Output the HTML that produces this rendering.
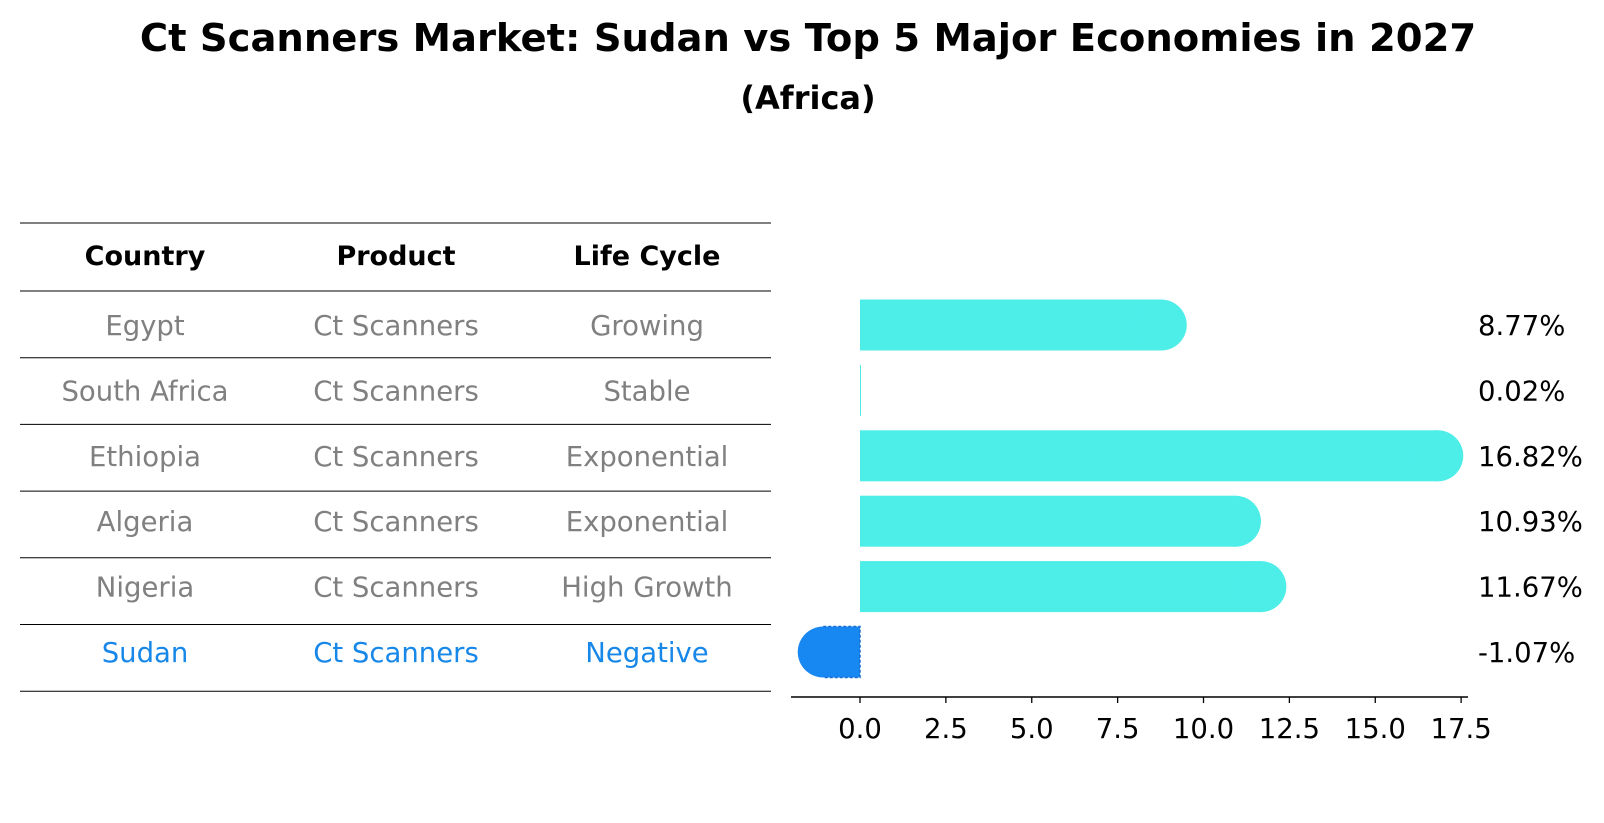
<!DOCTYPE html>
<html><head><meta charset="utf-8"><style>
body{margin:0;background:#fff;font-family:"Liberation Sans","DejaVu Sans",sans-serif;}
#wrap{position:relative;width:1604px;height:823px;overflow:hidden;}
.t{position:absolute;white-space:nowrap;line-height:1.15;}
</style></head><body>
<div id="wrap">
<div class="t" style="left:0;width:1616px;text-align:center;top:17px;font-size:38.5px;font-weight:bold;font-family:'DejaVu Sans',sans-serif;">Ct Scanners Market: Sudan vs Top 5 Major Economies in 2027</div>
<div class="t" style="left:0;width:1616px;text-align:center;top:80px;font-size:32px;font-weight:bold;font-family:'DejaVu Sans',sans-serif;">(Africa)</div>
<svg id="svg" width="1604" height="823" style="position:absolute;left:0;top:0"></svg>
</div>
<script>
const countries=["Egypt","South Africa","Ethiopia","Algeria","Nigeria","Sudan"];
const products=["Ct Scanners","Ct Scanners","Ct Scanners","Ct Scanners","Ct Scanners","Ct Scanners"];
const lifeCycles=["Growing","Stable","Exponential","Exponential","High Growth","Negative"];
const values=[8.77,0.02,16.82,10.93,11.67,-1.07];
const valueLabels=["8.77%","0.02%","16.82%","10.93%","11.67%","-1.07%"];
const ticks=[0,2.5,5,7.5,10,12.5,15,17.5];
const tickLabels=["0.0","2.5","5.0","7.5","10.0","12.5","15.0","17.5"];

const NS="http://www.w3.org/2000/svg";
const svg=document.getElementById('svg');
function mk(tag,attrs,parent){const e=document.createElementNS(NS,tag);for(const k in attrs)e.setAttribute(k,attrs[k]);(parent||svg).appendChild(e);return e;}
const x0=860,pxPer=34.35;
function xs(v){return x0+v*pxPer;}
const rowY0=325,rowStep=65.4,barH=51;
function ys(i){return rowY0+i*rowStep;}
const F='"DejaVu Sans",sans-serif';

// table
const lineYs=[223,291];
for(let i=0;i<countries.length;i++)lineYs.push(291+(i+1)*66.7);
lineYs.forEach((y,i)=>{
 const l=mk('line',{x1:20,x2:771,y1:y,y2:y,stroke:'#000','stroke-width':1});
 
 
});
const colX=[145,396,647];
["Country","Product","Life Cycle"].forEach((h,j)=>{
 const t=mk('text',{x:colX[j],y:265,'text-anchor':'middle','font-size':27,'font-weight':'bold','font-family':F});
 t.textContent=h;
 
 
});
for(let i=0;i<countries.length;i++){
 const col=i===countries.length-1?'#1787e8':'#808080';
 [countries[i],products[i],lifeCycles[i]].forEach((s,j)=>{
  const t=mk('text',{x:colX[j],y:ys(i)+10,'text-anchor':'middle','font-size':27.5,fill:col,'font-family':F});
  t.textContent=s;
  
  
 });
}
// bars
for(let i=0;i<values.length;i++){
 const v=values[i],y=ys(i),r=barH/2;
 const neg=v<0,col=neg?'#1787f2':'#4dede8';
 const a=xs(Math.min(0,v)),b=xs(Math.max(0,v));
 const rect=mk('rect',{x:a,y:y-r,width:Math.max(b-a,1),height:barH,fill:col});
 
 
 if(Math.abs(v)>0.1){
  const cx=neg?a:b;
  const cap=mk('circle',{cx:cx,cy:y,r:r,fill:col});
  
  
 }
 if(neg){
  const o=mk('path',{d:`M${a},${y-r}H${b}V${y+r}H${a}`,fill:'none',stroke:'#1a6fd0','stroke-width':1.5,'stroke-dasharray':'3,2'});
  
  
 }
 const t=mk('text',{x:1478,y:y+10,'font-size':27.5,'font-family':F});
 t.textContent=valueLabels[i];
 
 
}
// axis
const ax=mk('line',{x1:791,x2:1468,y1:697,y2:697,stroke:'#000','stroke-width':1.5});


ticks.forEach((v,i)=>{
 const tk=mk('line',{x1:xs(v),x2:xs(v),y1:697,y2:703,stroke:'#000','stroke-width':1.3});
 
 
 const t=mk('text',{x:xs(v),y:738,'text-anchor':'middle','font-size':27.5,'font-family':F});
 t.textContent=tickLabels[i];
 
 
});
</script>
</body></html>
